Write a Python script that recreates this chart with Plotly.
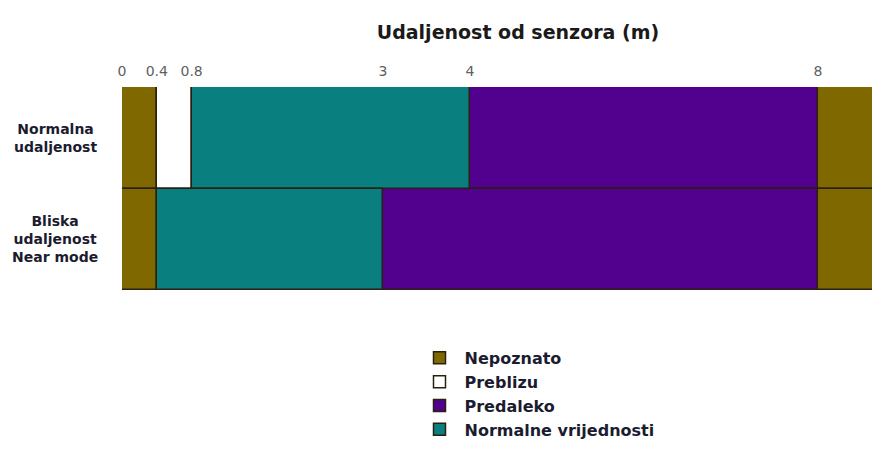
import plotly.graph_objects as go

# Data
rows = ["Normalna udaljenost", "Bliska udaljenost Near mode"]
row_labels = ["Normalna<br>udaljenost", "Bliska<br>udaljenost<br>Near mode"]
tick_vals = [0, 0.4, 0.8, 3, 4, 8]
tick_text = ["0", "0.4", "0.8", "3", "4", "8"]
axis_end = 8.62

# segments per category: rows, start, end
nepoznato_rows = [rows[0], rows[0], rows[1], rows[1]]
nepoznato_start = [0, 8, 0, 8]
nepoznato_end = [0.4, 9.5, 0.4, 9.5]

preblizu_rows = [rows[0]]
preblizu_start = [0.4]
preblizu_end = [0.8]

predaleko_rows = [rows[0], rows[1]]
predaleko_start = [4, 3]
predaleko_end = [8, 8]

normalne_rows = [rows[0], rows[1]]
normalne_start = [0.8, 0.4]
normalne_end = [4, 3]

series = [
    ("Nepoznato", "#806800", nepoznato_rows, nepoznato_start, nepoznato_end),
    ("Preblizu", "#ffffff", preblizu_rows, preblizu_start, preblizu_end),
    ("Predaleko", "#52008e", predaleko_rows, predaleko_start, predaleko_end),
    ("Normalne vrijednosti", "#0a7f7f", normalne_rows, normalne_start, normalne_end),
]

fig = go.Figure()
for name, color, ys, starts, ends in series:
    fig.add_trace(go.Bar(
        name=name,
        legendgroup=name,
        y=ys,
        base=starts,
        x=[e - s for s, e in zip(starts, ends)],
        orientation="h",
        marker=dict(color=color, line=dict(color="#2a2010", width=1.5)),
        hoverinfo="skip",
    ))

for r, lab in zip(rows, row_labels):
    fig.add_annotation(
        x=-0.089, xref="paper", y=r, yref="y",
        text="<b>" + lab + "</b>", showarrow=False, align="center",
        xanchor="center", yanchor="middle",
        font=dict(family="DejaVu Sans", size=14, color="#1c1c30"),
    )

fig.update_layout(
    width=872, height=450,
    margin=dict(l=122, r=0, t=87, b=160, autoexpand=False),
    barmode="overlay",
    bargap=0,
    plot_bgcolor="white",
    paper_bgcolor="white",
    showlegend=True,
    title=dict(
        text="<b>Udaljenost od senzora (m)</b>",
        x=0.594, xanchor="center", y=0.929, yanchor="middle",
        font=dict(family="DejaVu Sans", size=19, color="#1a1a1a"),
    ),
    legend=dict(
        x=0.39, xanchor="left", y=-0.251, yanchor="top",
        traceorder="normal",
        font=dict(family="DejaVu Sans", size=16, color="#1c1c30", weight="bold"),
        itemwidth=40,
        tracegroupgap=0,
    ),
    xaxis=dict(
        side="top", range=[0, axis_end],
        tickvals=tick_vals, ticktext=tick_text,
        showgrid=False, zeroline=False, showline=False,
        ticks="outside", ticklen=4, tickcolor="rgba(0,0,0,0)",
        tickfont=dict(family="DejaVu Sans", size=14, color="#606060"),
    ),
    yaxis=dict(
        categoryorder="array", categoryarray=rows,
        range=[1.5, -0.5],
        showticklabels=False, showgrid=False, zeroline=False, showline=False,
    ),
)

fig.write_html(
    "out.html",
    config={"displayModeBar": False},
    post_script="document.body.style.margin='0';document.body.style.overflow='hidden';",
)
